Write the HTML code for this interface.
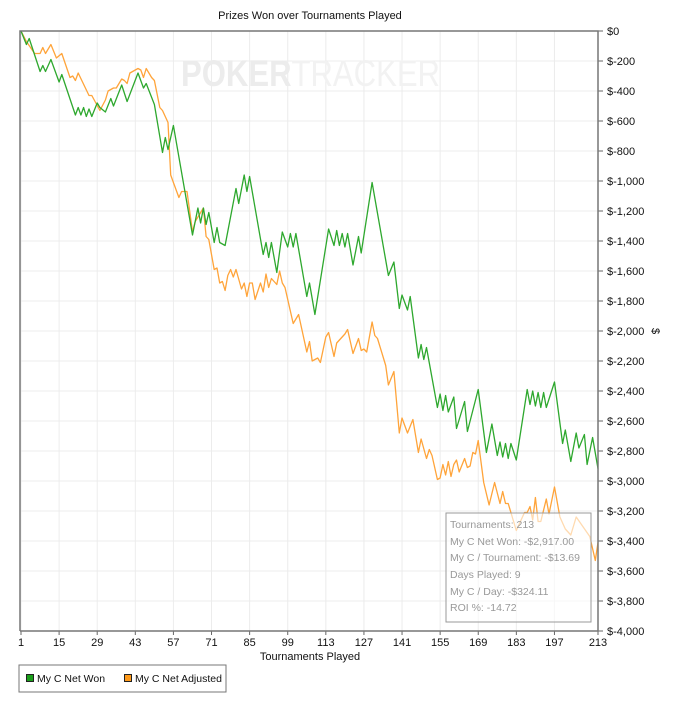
<!DOCTYPE html>
<html><head><meta charset="utf-8">
<style>
body{margin:0;background:#fff;width:673px;height:700px;overflow:hidden;font-family:"Liberation Sans",sans-serif;}
svg text{font-family:"Liberation Sans",sans-serif;}
</style></head>
<body>
<svg id="chart" width="673" height="700" xmlns="http://www.w3.org/2000/svg">
<text x="310" y="19" font-size="11" text-anchor="middle" fill="#111">Prizes Won over Tournaments Played</text>
<g id="grid"></g>
<text x="181" y="86" font-size="37" font-weight="bold" fill="#ececec" textLength="259" lengthAdjust="spacingAndGlyphs">POKER<tspan font-weight="normal" fill="#f2f2f2">TRACKER</tspan></text>
<g id="series"></g>
<g id="axes"></g>
<text x="310" y="660" font-size="11" text-anchor="middle" fill="#111">Tournaments Played</text>
<text x="652" y="331" font-size="11" text-anchor="middle" fill="#111" transform="rotate(90 652 331)">$</text>
<g>
<rect x="446" y="513" width="145" height="109" fill="#fff" fill-opacity="0.6" stroke="#999" stroke-width="1"/>
<g font-size="10.5" fill="#999">
<text x="450" y="528">Tournaments: 213</text>
<text x="450" y="545">My C Net Won: -$2,917.00</text>
<text x="450" y="561">My C / Tournament: -$13.69</text>
<text x="450" y="578">Days Played: 9</text>
<text x="450" y="595">My C / Day: -$324.11</text>
<text x="450" y="611">ROI %: -14.72</text>
</g></g>
<g>
<rect x="19" y="665" width="207" height="27" fill="#fff" stroke="#777" stroke-width="1"/>
<g><rect x="26.5" y="674.5" width="7" height="7" fill="#1a9e1a" stroke="#222"/><text x="37" y="682" font-size="10.5" fill="#111">My C Net Won</text></g>
<g><rect x="124.5" y="674.5" width="7" height="7" fill="#ff9a1a" stroke="#222"/><text x="135" y="682" font-size="10.5" fill="#111">My C Net Adjusted</text></g>
</g>
</svg>
<script>
const xTicks=[1,15,29,43,57,71,85,99,113,127,141,155,169,183,197,213];
const yTicks=[0,-200,-400,-600,-800,-1000,-1200,-1400,-1600,-1800,-2000,-2200,-2400,-2600,-2800,-3000,-3200,-3400,-3600,-3800,-4000];
const wonT=[1,3,4,8,9,10,12,15,16,21,22,23,24,25,26,27,29,30,32,34,35,38,40,44,46,47,50,53,54,55,57,64,66,67,68,69,70,72,73,74,76,80,81,83,84,85,90,91,92,93,95,97,99,100,101,102,106,107,109,114,116,117,118,119,120,121,123,125,126,130,136,138,140,141,143,144,147,148,149,150,154,155,156,157,158,160,161,164,165,169,172,174,176,177,178,179,180,181,183,187,188,189,190,191,192,193,194,197,200,201,203,205,206,208,209,211,213];
const wonV=[0,-90,-50,-270,-230,-270,-190,-340,-290,-560,-510,-560,-510,-570,-520,-570,-480,-510,-540,-450,-500,-360,-470,-280,-380,-350,-490,-810,-710,-790,-630,-1360,-1180,-1280,-1180,-1290,-1210,-1410,-1310,-1410,-1430,-1050,-1150,-960,-1070,-970,-1490,-1410,-1510,-1410,-1610,-1340,-1440,-1350,-1440,-1350,-1770,-1680,-1890,-1320,-1430,-1330,-1430,-1350,-1440,-1350,-1560,-1370,-1480,-1010,-1630,-1540,-1850,-1760,-1860,-1770,-2180,-2090,-2190,-2110,-2510,-2420,-2530,-2430,-2540,-2440,-2650,-2470,-2670,-2390,-2810,-2620,-2830,-2740,-2840,-2750,-2850,-2750,-2860,-2390,-2490,-2400,-2500,-2410,-2510,-2410,-2510,-2340,-2750,-2660,-2870,-2680,-2780,-2690,-2890,-2710,-2917];
const adjT=[1,3,6,8,9,10,12,14,16,19,20,21,22,26,27,30,32,33,35,36,38,39,40,41,44,45,46,47,49,50,52,53,55,56,57,59,60,62,64,65,68,69,70,72,73,74,75,76,77,78,79,80,82,83,84,85,86,87,89,90,91,92,93,95,96,97,98,101,103,106,107,108,110,111,113,114,116,117,120,121,123,125,126,127,128,130,131,132,135,136,138,140,141,143,145,147,148,150,151,152,154,155,156,157,158,159,160,161,162,164,165,166,167,168,169,171,173,175,177,178,179,180,183,186,187,188,189,190,191,192,194,195,197,199,201,203,205,210,212,213];
const adjV=[0,-70,-150,-150,-110,-150,-90,-180,-150,-310,-300,-330,-280,-430,-430,-530,-460,-400,-380,-380,-320,-330,-350,-280,-250,-260,-310,-250,-310,-330,-510,-530,-610,-960,-1010,-1110,-1070,-1070,-1340,-1270,-1180,-1370,-1390,-1590,-1580,-1680,-1670,-1730,-1630,-1590,-1640,-1590,-1720,-1680,-1770,-1680,-1680,-1790,-1680,-1740,-1620,-1710,-1650,-1690,-1600,-1680,-1710,-1950,-1890,-2140,-2070,-2200,-2180,-2210,-2040,-2010,-2170,-2080,-2020,-1990,-2150,-2050,-2130,-2120,-2140,-1940,-2030,-2050,-2230,-2360,-2270,-2680,-2580,-2680,-2590,-2810,-2720,-2850,-2790,-2830,-2990,-2980,-2890,-2960,-2870,-2970,-2890,-2860,-2940,-2850,-2910,-2900,-2810,-2820,-2730,-3010,-3160,-3010,-3150,-3070,-3150,-3150,-3330,-3210,-3210,-3170,-3260,-3110,-3270,-3270,-3120,-3220,-3040,-3240,-3320,-3360,-3240,-3370,-3530,-3410];

const NS='http://www.w3.org/2000/svg';
const L=20,R=598,T=31,B=631,X0=21;
const xs=t=>X0+(t-1)*(R-X0)/212;
const ys=v=>T+(-v)*(B-T)/4000;
function mk(tag,attrs,parent){const e=document.createElementNS(NS,tag);for(const k in attrs)e.setAttribute(k,attrs[k]);parent.appendChild(e);return e;}
const grid=document.getElementById('grid'),axes=document.getElementById('axes'),series=document.getElementById('series');
xTicks.forEach(t=>{
  const g=mk('line',{x1:xs(t),x2:xs(t),y1:T,y2:B,stroke:'#ececec','stroke-width':1},grid);
  
  
  const tk=mk('line',{x1:xs(t),x2:xs(t),y1:B,y2:B+4,stroke:'#666'},axes);
  
  
  const lb=mk('text',{x:xs(t),y:B+15,'font-size':11,'text-anchor':'middle',fill:'#111'},axes);
  lb.textContent=t;
  
  
});
yTicks.forEach(v=>{
  const g=mk('line',{x1:L,x2:R,y1:ys(v),y2:ys(v),stroke:'#ececec','stroke-width':1},grid);
  
  
  const tk=mk('line',{x1:R,x2:R+5,y1:ys(v),y2:ys(v),stroke:'#666'},axes);
  
  
  const lb=mk('text',{x:R+9,y:ys(v)+4,'font-size':11,fill:'#111'},axes);
  lb.textContent=v===0?'$0':'$-'+Math.abs(v).toLocaleString('en-US');
  
  
});
const frame=mk('path',{d:`M${L},${B}V${T}H${R}V${B}H${L}`,fill:'none',stroke:'#777','stroke-width':1.5},axes);


function line(ts,vs,color,name){
  const d=ts.map((t,i)=>(i?'L':'M')+xs(t).toFixed(1)+','+ys(vs[i]).toFixed(1)).join('');
  const p=mk('path',{d:d,fill:'none',stroke:color,'stroke-width':1.3,'stroke-linejoin':'round'},series);
  
  
}
line(adjT,adjV,'#ffa43a','net-adjusted-line');
line(wonT,wonV,'#2ea82e','net-won-line');
</script>
</body></html>
